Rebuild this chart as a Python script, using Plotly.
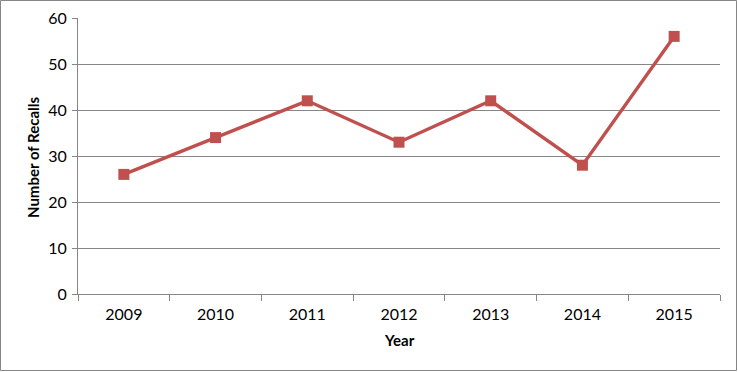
import plotly.graph_objects as go

years = ["2009", "2010", "2011", "2012", "2013", "2014", "2015"]
recalls = [26, 34, 42, 33, 42, 28, 56]

W, H = 738, 372
ml, mr, mt, mb = 78, 18, 18, 78
pw, ph = W - ml - mr, H - mt - mb

fig = go.Figure(go.Scatter(
    x=years, y=recalls, mode="lines+markers",
    line=dict(color="#C0504D", width=3.4),
    marker=dict(symbol="square", size=11, color="#C0504D"),
    cliponaxis=False,
))

font = "Lato, Calibri, 'Open Sans', sans-serif"
fig.update_layout(
    width=W, height=H,
    margin=dict(l=ml, r=mr, t=mt, b=mb, autoexpand=False),
    paper_bgcolor="white", plot_bgcolor="white",
    showlegend=False,
    font=dict(family=font, size=16, color="#000000"),
    xaxis=dict(
        type="category", range=[-0.5, 6.5], automargin=False,
        showline=True, linecolor="#868686", linewidth=1,
        ticks="outside", tickson="boundaries", ticklen=6, tickcolor="#868686",
        showgrid=False, ticklabelstandoff=6,
    ),
    yaxis=dict(
        range=[0, 60], dtick=10, automargin=False,
        showline=True, linecolor="#868686", linewidth=1,
        ticks="outside", ticklen=5, tickcolor="#868686",
        showgrid=True, gridcolor="#868686", gridwidth=1,
        zeroline=False, ticklabelstandoff=2,
    ),
    annotations=[
        dict(text="<b>Year</b>", xref="paper", yref="paper",
             x=(399 - ml) / pw, y=-(340 - mt - ph) / ph, showarrow=False,
             font=dict(size=15), xanchor="center", yanchor="middle"),
        dict(text="<b>Number of Recalls</b>", xref="paper", yref="paper",
             x=-(ml - 33) / pw, y=(mt + ph - 157) / ph, showarrow=False,
             textangle=-90, font=dict(size=15), xanchor="center", yanchor="middle"),
    ],
    shapes=[dict(
        type="rect", xref="paper", yref="paper",
        x0=-(ml - 0.5) / pw, x1=1 + (mr - 1.5) / pw,
        y0=-(mb - 1.5) / ph, y1=1 + (mt - 0.5) / ph,
        line=dict(color="#868686", width=1), layer="below",
    )],
)

fig.write_html("out.html", config={"displayModeBar": False},
               post_script="document.body.style.margin='0';")
